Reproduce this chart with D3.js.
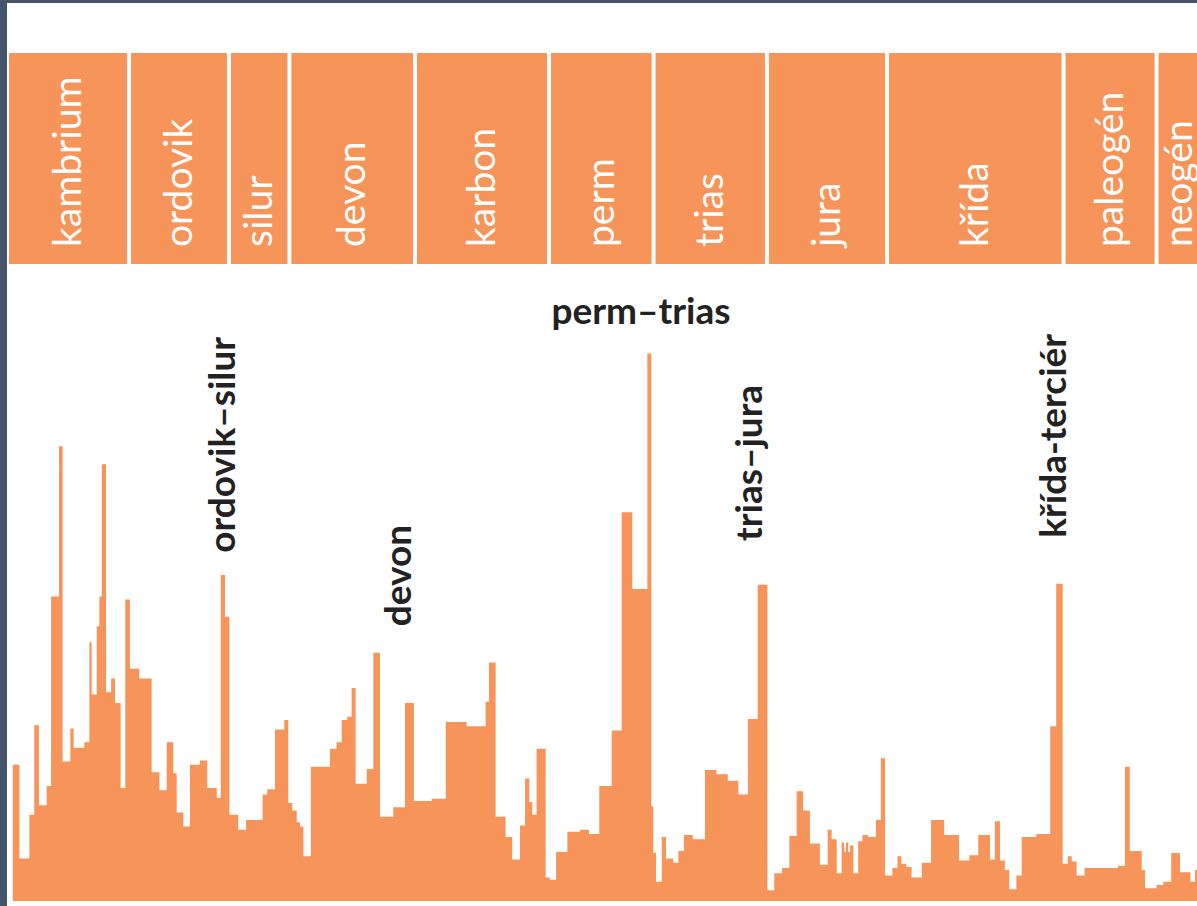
<!DOCTYPE html>
<html lang="cs">
<head>
<meta charset="utf-8">
<title>Vymírání v geologické minulosti</title>
<script src="https://cdn.jsdelivr.net/npm/d3@7"></script>
<style>
  body { margin: 0; background: #fff; }
  svg { display: block; font-family: Lato, "Open Sans", sans-serif; }
</style>
</head>
<body>
<div id="chart"></div>
<script>
// geologické periody (stáří v mil. let)
var periods = ["kambrium", "ordovik", "silur", "devon", "karbon", "perm", "trias", "jura", "křída", "paleogén", "neogén"];
var periodStart = [542, 486.9, 441.8, 414.5, 357.8, 297.3, 250.1, 198.9, 144.7, 65.0, 23.0];
var periodEnd   = [486.9, 441.8, 414.5, 357.8, 297.3, 250.1, 198.9, 144.7, 65.0, 23.0, 2.6];

// intenzita vymírání (%) - začátek každého stupně a hodnota
var stepAge = [
  539.4, 536.4, 531.9, 529.7, 527.6, 524.1, 522.1, 518.5, 516.9, 513.4,
  511.9, 507.1, 504.8, 503.8, 501.5, 500.3, 499.2, 497.3, 495.0, 493.2,
  490.7, 488.6, 486.5, 482.3, 476.7, 473.2, 469.9, 466.9, 465.4, 462.4,
  459.4, 454.9, 451.6, 447.3, 445.5, 443.6, 441.6, 437.6, 434.1, 426.6,
  424.5, 421.0, 416.8, 415.0, 413.2, 411.2, 409.7, 408.2, 404.8, 396.2,
  393.2, 390.9, 388.4, 386.4, 384.6, 379.6, 376.6, 373.6, 367.6, 362.3,
  358.3, 350.3, 343.9, 334.5, 325.9, 324.4, 321.4, 316.9, 313.9, 310.4,
  308.1, 306.2, 304.8, 302.9, 298.8, 296.9, 294.1, 289.0, 283.3, 279.2,
  274.6, 269.0, 264.5, 259.7, 252.9, 251.1, 250.2, 249.0, 246.4, 244.5,
  241.2, 238.9, 236.4, 232.4, 226.9, 221.7, 216.6, 211.8, 207.5, 203.1,
  198.7, 195.6, 192.1, 188.8, 185.5, 182.6, 179.5, 175.0, 171.5, 169.7,
  167.4, 165.2, 164.0, 163.2, 162.2, 161.4, 159.9, 157.7, 155.8, 153.3,
  149.7, 147.5, 145.6, 142.3, 140.0, 138.2, 136.0, 133.6, 129.0, 124.8,
  118.9, 112.2, 107.5, 103.5, 98.2, 96.0, 93.7, 91.5, 89.5, 86.3,
  83.9, 77.3, 71.0, 68.3, 65.4, 63.1, 61.3, 59.1, 55.5, 40.4,
  37.3, 35.1, 29.7, 28.2, 23.0, 20.0, 16.4, 12.4, 7.7, 5.6
];
var stepValue = [
  12.8, 4.0, 8.1, 16.5, 9.0, 10.8, 28.6, 42.7, 13.1, 16.2,
  14.4, 14.9, 24.3, 19.4, 25.8, 28.6, 41.0, 19.6, 20.9, 18.6,
  10.6, 28.3, 21.8, 20.9, 12.1, 10.4, 14.9, 12.0, 8.3, 7.0,
  12.8, 13.2, 10.6, 9.7, 30.6, 26.7, 8.1, 6.7, 7.6, 10.0,
  10.5, 16.1, 17.0, 9.2, 8.5, 7.4, 7.0, 4.2, 12.6, 14.3,
  14.9, 17.0, 17.3, 20.0, 11.0, 12.4, 23.3, 7.9, 8.8, 18.6,
  9.4, 9.6, 16.8, 16.4, 18.7, 22.4, 7.9, 6.0, 3.9, 7.1,
  11.5, 9.3, 8.1, 14.3, 2.2, 2.0, 4.6, 6.5, 6.7, 6.3,
  10.8, 16.0, 36.5, 29.3, 51.4, 8.9, 4.5, 1.8, 6.0, 4.0,
  3.6, 4.7, 6.2, 5.8, 12.3, 11.9, 11.3, 10.0, 17.1, 29.7,
  1.0, 2.6, 3.1, 6.1, 10.3, 8.5, 5.4, 3.4, 6.7, 5.8,
  2.6, 5.5, 4.6, 5.5, 4.6, 5.2, 2.6, 5.6, 6.2, 6.0,
  7.6, 13.4, 2.4, 3.1, 4.2, 3.5, 3.2, 2.2, 3.6, 7.6,
  6.2, 3.8, 4.3, 6.2, 3.9, 7.5, 3.8, 2.9, 1.1, 2.4,
  6.0, 6.3, 16.4, 29.8, 3.5, 4.2, 3.7, 2.4, 3.1, 3.3,
  12.6, 4.7, 2.9, 1.2, 1.5, 1.8, 4.5, 2.7, 1.8, 2.9
];
var lastAge = 0;

// popisky velkých vymírání
var annoText  = ["ordovik–silur", "devon", "perm–trias", "trias–jura", "křída-terciér"];
var annoAge   = [439.1, 359.6, 255.8, 201.1, 63.9];
var annoLevel = [32.7, 25.8, 54.2, 33.8, 34.1];
var annoUpright = [false, false, true, false, false];

var w = 1197;
var h = 906;
var orange = "#f69459";

var x = d3.scaleLinear()
  .domain([542, 0])
  .range([7, 1207.5]);

var y = d3.scaleLinear()
  .domain([0, 60])
  .range([901, 262]);

var svg = d3.select("#chart").append("svg")
  .attr("width", w)
  .attr("height", h);

// pás period
var bandTop = 53, bandBottom = 264;
var band = svg.selectAll("g.period")
  .data(periods)
  .enter()
  .append("g")
  .attr("class", "period");

band.append("rect")
  .attr("x", function(d, i) { return x(periodStart[i]) + 2; })
  .attr("y", bandTop)
  .attr("width", function(d, i) { return x(periodEnd[i]) - x(periodStart[i]) - 4; })
  .attr("height", bandBottom - bandTop)
  .attr("fill", orange);

band.append("text")
  .attr("transform", function(d, i) {
    var cx = (x(periodStart[i]) + x(periodEnd[i])) / 2 + 13;
    return "translate(" + cx + "," + 247 + ") rotate(-90)";
  })
  .attr("fill", "#fff")
  .attr("font-size", 39)
  .text(function(d) { return d; });

// histogram
var pts = stepAge.map(function(a, i) { return [a, stepValue[i]]; });
pts.push([lastAge, stepValue[stepValue.length - 1]]);

var area = d3.area()
  .curve(d3.curveStepAfter)
  .x(function(d) { return x(d[0]); })
  .y0(y(0))
  .y1(function(d) { return y(d[1]); });

svg.append("path")
  .datum(pts)
  .attr("d", area)
  .attr("fill", orange);

// popisky
svg.selectAll("text.anno")
  .data(annoText)
  .enter()
  .append("text")
  .attr("class", "anno")
  .attr("transform", function(d, i) {
    var t = "translate(" + x(annoAge[i]) + "," + y(annoLevel[i]) + ")";
    return annoUpright[i] ? t : t + " rotate(-90)";
  })
  .attr("text-anchor", function(d, i) { return annoUpright[i] ? "middle" : "start"; })
  .attr("font-size", 37)
  .attr("font-weight", 700)
  .attr("fill", "#222")
  .text(function(d) { return d; });

// rámeček
svg.append("rect").attr("x", 0).attr("y", 0).attr("width", w).attr("height", 3).attr("fill", "#44546a");
svg.append("rect").attr("x", 0).attr("y", 0).attr("width", 7).attr("height", h).attr("fill", "#44546a");
</script>
</body>
</html>
